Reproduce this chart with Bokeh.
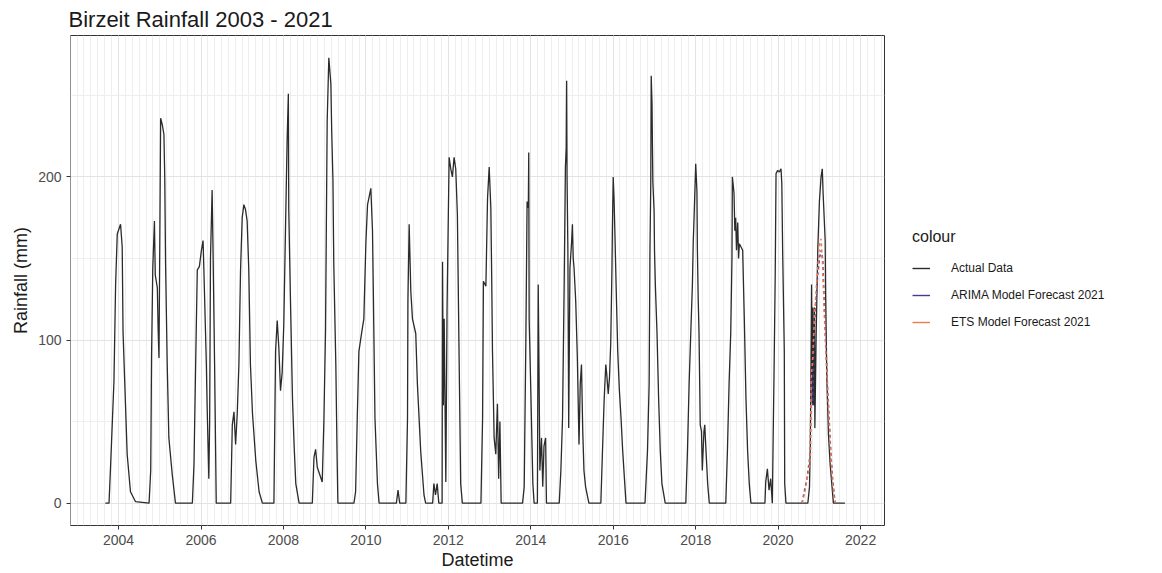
import pandas as pd
from bokeh.plotting import figure
from bokeh.layouts import row
from bokeh.models import (Range1d, FixedTicker, DatetimeTickFormatter,
                          Legend, LegendItem, ColumnDataSource)
from bokeh.embed import file_html
from bokeh.resources import INLINE

# Rolling monthly rainfall at Birzeit, one list of (decimal year, mm) per wet season
season_2004 = [(2003.68, 0), (2003.77, 0), (2003.81, 24), (2003.89, 75), (2003.93, 134), (2003.97, 165),
               (2004.05, 171), (2004.09, 157), (2004.11, 105), (2004.15, 75), (2004.21, 30), (2004.29, 7),
               (2004.41, 1), (2004.74, 0)]
season_2005 = [(2004.78, 20), (2004.80, 89), (2004.83, 144), (2004.87, 173), (2004.89, 140), (2004.94, 132),
               (2004.96, 106), (2004.98, 89), (2005.00, 160), (2005.02, 236), (2005.06, 232), (2005.10, 226),
               (2005.12, 200), (2005.14, 147), (2005.18, 85), (2005.22, 40), (2005.30, 18), (2005.38, 0),
               (2005.79, 0)]
season_2006 = [(2005.83, 24), (2005.87, 85), (2005.91, 143), (2005.96, 145), (2006.01, 155), (2006.05, 161),
               (2006.07, 143), (2006.13, 85), (2006.15, 58), (2006.19, 15), (2006.21, 50), (2006.23, 150),
               (2006.27, 192), (2006.29, 159), (2006.33, 85), (2006.37, 0), (2006.72, 0)]
season_2007 = [(2006.76, 48), (2006.80, 56), (2006.84, 36), (2006.88, 55), (2006.92, 85), (2006.96, 143),
               (2007.00, 175), (2007.04, 183), (2007.08, 180), (2007.12, 173), (2007.16, 143), (2007.20, 85),
               (2007.25, 55), (2007.33, 26), (2007.41, 7), (2007.49, 0), (2007.77, 0)]
season_2008 = [(2007.81, 93), (2007.85, 112), (2007.89, 95), (2007.93, 69), (2007.97, 80), (2008.01, 110),
               (2008.05, 167), (2008.09, 222), (2008.12, 251), (2008.13, 180), (2008.17, 126), (2008.22, 64),
               (2008.26, 35), (2008.30, 12), (2008.38, 0), (2008.70, 0)]
season_2009 = [(2008.74, 28), (2008.78, 33), (2008.82, 22), (2008.94, 13), (2008.98, 50), (2009.02, 106),
               (2009.06, 234), (2009.10, 273), (2009.15, 257), (2009.17, 228), (2009.20, 198), (2009.22, 147),
               (2009.27, 85), (2009.30, 30), (2009.32, 0), (2009.71, 0)]
season_2010 = [(2009.75, 7), (2009.79, 52), (2009.83, 93), (2009.90, 105), (2009.95, 113), (2010.00, 160),
               (2010.04, 183), (2010.12, 193), (2010.16, 167), (2010.18, 130), (2010.22, 52), (2010.28, 12),
               (2010.32, 0), (2010.74, 0), (2010.78, 8), (2010.82, 0), (2010.97, 0)]
season_2011 = [(2011.01, 52), (2011.02, 124), (2011.05, 171), (2011.09, 130), (2011.13, 113), (2011.21, 104),
               (2011.25, 73), (2011.33, 32), (2011.41, 5), (2011.45, 0), (2011.62, 0), (2011.65, 12),
               (2011.69, 5), (2011.73, 12), (2011.77, 0), (2011.85, 0)]
season_2012 = [(2011.86, 148), (2011.88, 60), (2011.90, 113), (2011.94, 13), (2011.97, 120), (2012.02, 212),
               (2012.06, 205), (2012.10, 200), (2012.14, 212), (2012.18, 205), (2012.22, 177), (2012.26, 93),
               (2012.30, 12), (2012.34, 0), (2012.79, 0)]
season_2013 = [(2012.83, 52), (2012.85, 136), (2012.91, 133), (2012.95, 187), (2012.99, 206), (2013.03, 181),
               (2013.05, 140), (2013.07, 93), (2013.11, 40), (2013.15, 30), (2013.19, 61), (2013.22, 15),
               (2013.25, 50), (2013.28, 0), (2013.80, 0)]
season_2014 = [(2013.84, 10), (2013.88, 100), (2013.91, 185), (2013.94, 181), (2013.95, 215), (2013.96, 113),
               (2014.00, 69), (2014.05, 12), (2014.08, 0), (2014.16, 0), (2014.18, 134), (2014.20, 80),
               (2014.22, 20), (2014.26, 40), (2014.29, 10), (2014.32, 35), (2014.36, 40), (2014.38, 0),
               (2014.69, 0)]
season_2015 = [(2014.73, 20), (2014.77, 52), (2014.81, 134), (2014.84, 206), (2014.86, 218), (2014.87, 259),
               (2014.88, 200), (2014.90, 155), (2014.92, 46), (2014.95, 144), (2014.99, 160), (2015.01, 171),
               (2015.03, 150), (2015.05, 144), (2015.09, 124), (2015.13, 89), (2015.17, 36), (2015.20, 73),
               (2015.23, 85), (2015.26, 45), (2015.29, 20), (2015.33, 10), (2015.41, 0), (2015.70, 0)]
season_2016 = [(2015.74, 32), (2015.78, 63), (2015.82, 85), (2015.84, 80), (2015.88, 67), (2015.91, 77),
               (2015.94, 98), (2015.97, 144), (2015.98, 167), (2016.00, 200), (2016.02, 187), (2016.04, 167),
               (2016.07, 134), (2016.11, 93), (2016.15, 69), (2016.19, 52), (2016.23, 32), (2016.31, 0),
               (2016.77, 0)]
season_2017 = [(2016.83, 32), (2016.87, 73), (2016.89, 155), (2016.91, 197), (2016.92, 262), (2016.94, 245),
               (2016.95, 218), (2016.96, 197), (2016.99, 179), (2017.00, 155), (2017.02, 134), (2017.06, 105),
               (2017.10, 64), (2017.14, 32), (2017.18, 12), (2017.26, 0), (2017.76, 0)]
season_2018 = [(2017.80, 32), (2017.84, 73), (2017.88, 104), (2017.92, 134), (2017.94, 160), (2017.96, 175),
               (2017.98, 191), (2018.00, 208), (2018.03, 191), (2018.04, 157), (2018.06, 126), (2018.08, 105),
               (2018.11, 48), (2018.14, 44), (2018.16, 20), (2018.20, 44), (2018.22, 48), (2018.25, 32),
               (2018.29, 12), (2018.33, 0), (2018.73, 0)]
season_2019 = [(2018.77, 32), (2018.81, 73), (2018.85, 104), (2018.88, 150), (2018.89, 200), (2018.93, 190),
               (2018.95, 167), (2018.97, 175), (2018.99, 155), (2019.02, 172), (2019.04, 150), (2019.06, 159),
               (2019.10, 157), (2019.14, 155), (2019.18, 113), (2019.22, 64), (2019.26, 32), (2019.30, 12),
               (2019.34, 0), (2019.68, 0)]
season_2020 = [(2019.70, 13), (2019.74, 21), (2019.78, 8), (2019.82, 15), (2019.86, 0), (2019.88, 40),
               (2019.90, 77), (2019.93, 140), (2019.95, 202), (2019.99, 204), (2020.03, 203), (2020.07, 205),
               (2020.09, 196), (2020.11, 155), (2020.15, 93), (2020.16, 12), (2020.19, 0), (2020.72, 0)]
season_2021 = [(2020.76, 10), (2020.78, 36), (2020.80, 98), (2020.81, 134), (2020.83, 61), (2020.84, 120),
               (2020.86, 60), (2020.88, 120), (2020.89, 46), (2020.92, 101), (2020.96, 155), (2021.00, 185),
               (2021.04, 200), (2021.07, 205), (2021.09, 190), (2021.14, 161), (2021.15, 130), (2021.18, 77),
               (2021.22, 42), (2021.26, 24), (2021.30, 12), (2021.34, 0), (2021.62, 0)]

# Model forecasts for the 2020-21 season
arima_forecast = [(2020.58, 0), (2020.64, 8), (2020.70, 15), (2020.75, 25), (2020.78, 30), (2020.80, 80),
                  (2020.84, 60), (2020.88, 110), (2020.92, 125), (2020.96, 140), (2021.00, 150), (2021.04, 155),
                  (2021.08, 150), (2021.12, 120), (2021.16, 95), (2021.20, 70), (2021.24, 50), (2021.28, 30),
                  (2021.32, 15), (2021.36, 5), (2021.39, 0)]
ets_forecast = [(2020.58, 0), (2020.64, 6), (2020.70, 14), (2020.75, 22), (2020.78, 28), (2020.80, 75),
                (2020.84, 90), (2020.88, 115), (2020.92, 130), (2020.96, 145), (2021.00, 158), (2021.04, 162),
                (2021.08, 145), (2021.12, 115), (2021.16, 90), (2021.20, 68), (2021.24, 48), (2021.28, 28),
                (2021.32, 12), (2021.36, 3), (2021.39, 0)]

series_names = ["Actual Data", "ARIMA Model Forecast 2021", "ETS Model Forecast 2021"]
series_colors = ["#2b2b2b", "#483D8B", "#F07A50"]
major_years = [2004, 2006, 2008, 2010, 2012, 2014, 2016, 2018, 2020, 2022]
y_ticks = [0, 100, 200]
y_minor = [50, 150, 250]

FONT = "Liberation Sans"


def to_time(t):
    """Decimal year -> pandas Timestamp."""
    y = int(t)
    start = pd.Timestamp(year=y, month=1, day=1)
    days = (pd.Timestamp(year=y + 1, month=1, day=1) - start).days
    return start + pd.Timedelta(days=(t - y) * days)


def to_ms(ts):
    return ts.value / 1e6


def make_source(points):
    return ColumnDataSource(dict(date=[to_time(t) for t, _ in points],
                                 mm=[v for _, v in points]))


actual = (season_2004 + season_2005 + season_2006 + season_2007 + season_2008 + season_2009 +
          season_2010 + season_2011 + season_2012 + season_2013 + season_2014 + season_2015 +
          season_2016 + season_2017 + season_2018 + season_2019 + season_2020 + season_2021)

# ---- main panel -------------------------------------------------------------
p = figure(width=886, height=573, x_axis_type="datetime",
           x_range=Range1d(to_time(2002.835), to_time(2022.58)),
           y_range=Range1d(-13.7, 286.7),
           output_backend="svg", toolbar_location=None,
           min_border_left=70, min_border_right=2, min_border_top=35, min_border_bottom=48)

p.background_fill_color = "white"
p.border_fill_color = "white"
p.outline_line_color = "#333333"
p.outline_line_width = 1

p.title.text = "Birzeit Rainfall 2003 - 2021"
p.title.text_font = FONT
p.title.text_font_size = "22px"
p.title.text_font_style = "normal"
p.title.text_color = "#1a1a1a"
p.title.offset = -2
p.title.standoff = 8

# ticks: major every two years, light minor grid every two months
major_ms = [to_ms(pd.Timestamp(year=y, month=1, day=1)) for y in major_years]
minor_ms = [to_ms(pd.Timestamp(year=y, month=m, day=1))
            for y in range(2002, 2023) for m in (1, 3, 5, 7, 9, 11)]
p.xaxis.ticker = FixedTicker(ticks=major_ms, minor_ticks=minor_ms)
p.xaxis.formatter = DatetimeTickFormatter(years="%Y", months="%Y", days="%Y", hours="%Y",
                                          minutes="%Y", seconds="%Y", milliseconds="%Y",
                                          microseconds="%Y")
p.yaxis.ticker = FixedTicker(ticks=y_ticks, minor_ticks=y_minor)

for ax in (p.xaxis, p.yaxis):
    ax.axis_line_color = None
    ax.major_tick_line_color = "#333333"
    ax.major_tick_in = 0
    ax.major_tick_out = 4
    ax.minor_tick_line_color = None
    ax.major_label_text_font = FONT
    ax.major_label_text_font_size = "14px"
    ax.major_label_text_color = "#4d4d4d"
    ax.axis_label_text_font = FONT
    ax.axis_label_text_font_size = "18px"
    ax.axis_label_text_font_style = "normal"
    ax.axis_label_text_color = "#1a1a1a"

p.xaxis.axis_label = "Datetime"
p.yaxis.axis_label = "Rainfall (mm)"
p.xaxis.major_label_standoff = 5
p.xaxis.axis_label_standoff = 2
p.yaxis.major_label_standoff = 5
p.yaxis.axis_label_standoff = 4

p.xgrid.grid_line_color = "#e3e3e3"
p.xgrid.grid_line_width = 1
p.xgrid.minor_grid_line_color = "#eeeeee"
p.xgrid.minor_grid_line_width = 1
p.ygrid.grid_line_color = "#e3e3e3"
p.ygrid.grid_line_width = 1
p.ygrid.minor_grid_line_color = "#eeeeee"
p.ygrid.minor_grid_line_width = 1

p.line("date", "mm", source=make_source(actual),
       line_color=series_colors[0], line_width=1.3)
p.line("date", "mm", source=make_source(arima_forecast),
       line_color=series_colors[1], line_width=1.5, line_dash="3 3")
p.line("date", "mm", source=make_source(ets_forecast),
       line_color=series_colors[2], line_width=1.5, line_dash="3 3")

# ---- legend panel ("colour" guide) -----------------------------------------
leg = figure(width=276, height=573, x_range=Range1d(0, 1), y_range=Range1d(0, 1),
             output_backend="svg", toolbar_location=None,
             min_border=0, outline_line_color=None)
leg.axis.visible = False
leg.grid.visible = False
leg.background_fill_color = "white"
leg.border_fill_color = "white"

keys = []
for c in series_colors:
    # a segment parked outside the visible range: only the legend key shows
    keys.append(leg.line([5, 6], [5, 5], line_color=c, line_width=1.4))

legend = Legend(items=[LegendItem(label=name, renderers=[k]) for name, k in zip(series_names, keys)],
                location=(26, 193), title="colour",
                title_text_font=FONT, title_text_font_size="16px", title_text_color="#1a1a1a",
                title_text_font_style="normal", title_standoff=12,
                label_text_font=FONT, label_text_font_size="12px", label_text_color="#1a1a1a",
                glyph_width=18, glyph_height=20, label_height=20, label_standoff=21,
                spacing=7, padding=0, margin=0,
                border_line_color=None, background_fill_alpha=0)
leg.add_layout(legend, "center")

layout = row(p, leg, spacing=0)
open("out.html", "w").write(file_html(layout, INLINE))
